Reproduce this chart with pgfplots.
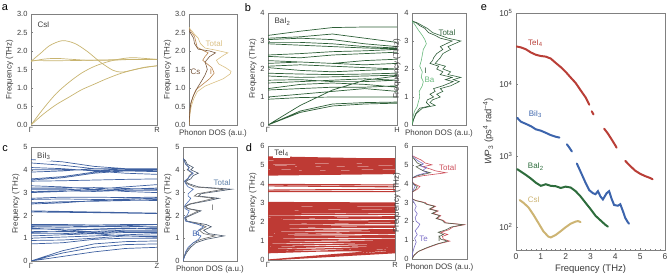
\documentclass[border=0pt]{standalone}
\usepackage{fontspec}
\setmainfont{Liberation Sans}
\usepackage{pgfplots}
\pgfplotsset{compat=1.18}

\definecolor{axc}{RGB}{128,128,128}
\definecolor{txt}{RGB}{60,60,60}
% CsI
\definecolor{csband}{RGB}{200,180,112}
\definecolor{cstot}{RGB}{218,192,132}
\definecolor{cscs}{RGB}{120,88,62}
\definecolor{csi}{RGB}{185,130,75}
% BaI2
\definecolor{baband}{RGB}{45,95,55}
\definecolor{batot}{RGB}{50,100,62}
\definecolor{bai}{RGB}{45,90,55}
\definecolor{baba}{RGB}{105,185,125}
% BiI3
\definecolor{biband}{RGB}{62,96,160}
\definecolor{bitot}{RGB}{70,85,105}
\definecolor{bitotl}{RGB}{95,130,170}
\definecolor{bii}{RGB}{105,105,105}
\definecolor{bibi}{RGB}{75,110,180}
% TeI4
\definecolor{teband}{RGB}{190,58,52}
\definecolor{tetot}{RGB}{205,80,92}
\definecolor{tei}{RGB}{85,95,75}
\definecolor{tete}{RGB}{125,112,200}
% WP3
\definecolor{wpte}{RGB}{185,62,55}
\definecolor{wpbi}{RGB}{60,100,172}
\definecolor{wpba}{RGB}{45,108,60}
\definecolor{wpcs}{RGB}{205,180,115}

\tikzset{
  tag/.style={font=\fontsize{8}{9}\selectfont, text=txt, anchor=west, inner sep=0pt},
  lab/.style={font=\fontsize{8}{9}\selectfont, inner sep=0pt},
}
\pgfplotsset{
  base/.style={scale only axis, anchor=south west,
    axis line style={draw=axc, line width=0.6pt},
    every tick/.style={draw=axc, line width=0.5pt},
    tick align=inside, tick pos=left,
    major tick length=2.2pt, minor tick length=1.3pt,
    tick label style={font=\fontsize{7.5}{8}\selectfont, text=txt},
    label style={font=\fontsize{8}{9.5}\selectfont, text=txt},
    /pgf/number format/assume math mode=true,
    unbounded coords=jump},
  band/.style={base, xmin=0, xmax=1, xtick={0,1},
    ylabel={Frequency (THz)}, ylabel style={yshift=-3pt},
    xticklabel style={yshift=1.5pt}},
  dos/.style={base, xmin=0, xmax=1.05, xtick=\empty,
    ylabel={Frequency (THz)}, ylabel style={yshift=-3pt},
    xlabel={Phonon DOS (a.u.)}, xlabel style={yshift=-1pt}},
}

\begin{document}
\begin{tikzpicture}
\path[use as bounding box] (0bp,0bp) rectangle (669bp,275bp);

% panel letters
\node[font=\fontsize{11}{12}\selectfont, text=black] at (5bp,267bp) {a};
\node[font=\fontsize{11}{12}\selectfont, text=black] at (248bp,267bp) {b};
\node[font=\fontsize{11}{12}\selectfont, text=black] at (5bp,126bp) {c};
\node[font=\fontsize{11}{12}\selectfont, text=black] at (249bp,127bp) {d};
\node[font=\fontsize{11}{12}\selectfont, text=black] at (484bp,267bp) {e};

% ---------- a: CsI dispersion ----------
\begin{axis}[band, at={(31bp,150bp)}, width=126bp, height=111bp,
  ymin=0, ymax=3, ytick={0,0.5,...,3}, xticklabels={Γ,R},
  yticklabel style={/pgf/number format/fixed, /pgf/number format/fixed zerofill, /pgf/number format/precision=1}]
\addplot[csband, line width=0.7pt, smooth] coordinates {(0,0)(0.1,0.3)(0.2,0.55)(0.3,0.75)(0.4,0.95)(0.5,1.1)(0.6,1.25)(0.7,1.38)(0.8,1.48)(0.9,1.55)(1,1.6)};
\addplot[csband, line width=0.7pt, smooth] coordinates {(0,0)(0.1,0.45)(0.2,0.85)(0.3,1.15)(0.4,1.4)(0.5,1.58)(0.6,1.7)(0.7,1.78)(0.8,1.82)(0.9,1.8)(1,1.77)};
\addplot[csband, line width=0.7pt, smooth] coordinates {(0,1.72)(0.08,1.95)(0.15,2.15)(0.25,2.28)(0.35,2.2)(0.45,1.98)(0.55,1.7)(0.65,1.48)(0.72,1.43)(0.8,1.48)(0.9,1.56)(1,1.6)};
\addplot[csband, line width=0.7pt, smooth] coordinates {(0,1.72)(0.1,1.78)(0.2,1.8)(0.3,1.78)(0.45,1.75)(0.6,1.75)(0.8,1.77)(1,1.77)};
\addplot[csband, line width=0.7pt, smooth] coordinates {(0,1.74)(0.3,1.74)(0.6,1.76)(1,1.78)};
\node[tag] at (rel axis cs:0.05,0.9) {CsI};
\end{axis}

% ---------- a: CsI DOS ----------
\begin{axis}[dos, at={(189bp,150bp)}, width=48bp, height=111bp,
  ymin=0, ymax=3, ytick={0,0.5,...,3},
  yticklabel style={/pgf/number format/fixed, /pgf/number format/fixed zerofill, /pgf/number format/precision=1}]
\addplot[cstot, line width=0.6pt] coordinates {(0,0)(0.02,0.3)(0.05,0.5)(0.1,0.7)(0.18,0.9)(0.35,1.05)(0.55,1.15)(0.75,1.25)(0.9,1.38)(0.92,1.45)(0.8,1.55)(0.65,1.65)(0.6,1.75)(0.75,1.88)(0.85,1.95)(0.6,2.02)(0.35,2.08)(0.25,2.2)(0.2,2.35)(0.12,2.45)(0.08,2.52)(0.02,2.6)(0,2.65)};
\addplot[csi, line width=0.6pt] coordinates {(0,0)(0.03,0.5)(0.08,0.75)(0.15,0.95)(0.3,1.1)(0.45,1.25)(0.55,1.4)(0.5,1.55)(0.4,1.65)(0.3,1.75)(0.35,1.85)(0.42,1.95)(0.3,2.02)(0.18,2.1)(0.15,2.25)(0.12,2.4)(0.06,2.5)(0,2.6)};
\addplot[cscs, line width=0.6pt] coordinates {(0,0)(0.02,0.4)(0.04,0.6)(0.1,0.8)(0.18,1.0)(0.28,1.2)(0.35,1.35)(0.4,1.5)(0.38,1.6)(0.35,1.7)(0.45,1.85)(0.58,1.95)(0.45,2.0)(0.2,2.05)(0.12,2.2)(0.1,2.35)(0.05,2.45)(0,2.55)};
\node[lab, text=cstot] at (axis cs:0.55,2.2) {Total};
\node[lab, text=cscs] at (axis cs:0.14,1.43) {Cs};
\node[lab, text=csi] at (axis cs:0.48,1.43) {I};
\end{axis}

% ---------- b: BaI2 dispersion ----------
\begin{axis}[band, at={(268bp,150bp)}, width=129bp, height=112bp,
  ymin=0, ymax=4, ytick={0,...,4}, xticklabels={Γ,H}]
\addplot[baband, line width=0.7pt] coordinates {
(0,0)(0.25,0.45)(0.5,0.68)(0.75,0.75)(1,0.78) (1,nan)
(0,0)(0.25,0.5)(0.5,0.75)(0.75,0.8)(1,0.82) (1,nan)
(0,0)(0.25,0.7)(0.5,1.25)(0.75,1.6)(1,1.75) (1,nan)
(0,0.92)(0.25,0.98)(0.5,1.0)(0.75,1.0)(1,1.0) (1,nan)
(0,1.0)(0.25,1.1)(0.5,1.2)(0.75,1.3)(1,1.2) (1,nan)
(0,1.25)(0.25,1.3)(0.5,1.35)(0.75,1.35)(1,1.4) (1,nan)
(0,1.3)(0.25,1.45)(0.5,1.5)(0.75,1.45)(1,1.35) (1,nan)
(0,1.5)(0.25,1.55)(0.5,1.6)(0.75,1.65)(1,1.6) (1,nan)
(0,1.6)(0.25,1.62)(0.5,1.55)(0.75,1.55)(1,1.6) (1,nan)
(0,1.75)(0.25,1.7)(0.5,1.72)(0.75,1.75)(1,1.78) (1,nan)
(0,1.85)(0.25,1.82)(0.5,1.8)(0.75,1.82)(1,1.85) (1,nan)
(0,2.05)(0.25,1.95)(0.5,1.9)(0.75,1.95)(1,2.0) (1,nan)
(0,2.1)(0.25,2.15)(0.5,2.1)(0.75,2.05)(1,2.0) (1,nan)
(0,2.2)(0.25,2.25)(0.5,2.2)(0.75,2.15)(1,2.2) (1,nan)
(0,2.3)(0.25,2.25)(0.5,2.2)(0.75,2.3)(1,2.35) (1,nan)
(0,2.45)(0.25,2.4)(0.5,2.5)(0.75,2.55)(1,2.6) (1,nan)
(0,2.5)(0.25,2.55)(0.5,2.62)(0.75,2.65)(1,2.7) (1,nan)
(0,2.9)(0.25,2.85)(0.5,2.8)(0.75,2.75)(1,2.72) (1,nan)
(0,2.95)(0.25,2.95)(0.5,2.9)(0.75,2.8)(1,2.75) (1,nan)
(0,3.05)(0.25,3.1)(0.5,3.05)(0.75,2.9)(1,2.8) (1,nan)
(0,3.1)(0.25,3.15)(0.5,3.25)(0.75,3.1)(1,2.95) (1,nan)
(0,3.2)(0.25,3.35)(0.5,3.48)(0.75,3.5)(1,3.5)
};
\node[tag] at (rel axis cs:0.05,0.92) {BaI\textsubscript{2}};
\end{axis}

% ---------- b: BaI2 DOS ----------
\begin{axis}[dos, at={(412bp,150bp)}, width=54bp, height=112bp,
  ymin=0, ymax=4, ytick={0,...,4}]
\addplot[batot, line width=0.6pt] coordinates {(0,0)(0.03,0.2)(0.08,0.4)(0.2,0.6)(0.45,0.7)(0.35,0.8)(0.4,0.9)(0.55,1.0)(0.48,1.1)(0.6,1.2)(0.55,1.3)(0.75,1.4)(0.92,1.55)(0.8,1.62)(0.95,1.7)(0.7,1.8)(0.75,1.9)(0.6,2.0)(0.65,2.1)(0.45,2.2)(0.5,2.3)(0.55,2.4)(0.6,2.55)(0.75,2.7)(0.7,2.8)(0.95,3.0)(0.7,3.1)(0.55,3.2)(0.4,3.3)(0.3,3.45)(0.2,3.55)(0.1,3.65)(0,3.72)};
\addplot[bai, line width=0.6pt] coordinates {(0,0)(0.03,0.2)(0.07,0.4)(0.15,0.6)(0.35,0.68)(0.28,0.8)(0.3,0.9)(0.42,1.0)(0.35,1.1)(0.45,1.2)(0.42,1.3)(0.6,1.4)(0.8,1.55)(0.65,1.62)(0.78,1.7)(0.55,1.8)(0.6,1.9)(0.48,2.0)(0.52,2.1)(0.35,2.2)(0.4,2.3)(0.42,2.4)(0.48,2.55)(0.6,2.7)(0.55,2.8)(0.78,3.0)(0.55,3.1)(0.45,3.2)(0.32,3.3)(0.25,3.45)(0.15,3.55)(0.08,3.65)(0,3.7)};
\addplot[baba, line width=0.6pt] coordinates {(0,0)(0.02,0.3)(0.05,0.5)(0.1,0.65)(0.12,0.8)(0.15,1.0)(0.14,1.2)(0.2,1.4)(0.22,1.55)(0.18,1.7)(0.2,1.9)(0.15,2.1)(0.18,2.3)(0.2,2.5)(0.22,2.7)(0.28,2.9)(0.25,3.05)(0.2,3.2)(0.12,3.4)(0.05,3.6)(0,3.7)};
\node[lab, text=batot] at (axis cs:0.68,3.29) {Total};
\node[lab, text=bai] at (axis cs:0.26,1.93) {I};
\node[lab, text=baba] at (axis cs:0.34,1.6) {Ba};
\end{axis}

% ---------- c: BiI3 dispersion ----------
\begin{axis}[band, at={(31bp,14bp)}, width=126bp, height=114bp,
  ymin=0, ymax=5, ytick={0,...,5}, xticklabels={Γ,Z}]
\addplot[biband, line width=0.7pt] coordinates {
(0,0)(0.25,0.35)(0.5,0.6)(0.75,0.72)(1,0.75) (1,nan)
(0,0)(0.25,0.45)(0.5,0.75)(0.75,0.85)(1,0.88) (1,nan)
(0,0)(0.25,0.2)(0.5,0.4)(0.75,0.55)(1,0.6) (1,nan)
(0,0.75)(0.25,0.8)(0.5,0.95)(0.75,1.0)(1,1.0) (1,nan)
(0,0.9)(0.25,0.92)(0.5,1.0)(0.75,1.1)(1,1.1) (1,nan)
(0,1.0)(0.25,1.05)(0.5,1.1)(0.75,1.15)(1,1.2) (1,nan)
(0,1.1)(0.25,1.15)(0.5,1.2)(0.75,1.25)(1,1.25) (1,nan)
(0,1.2)(0.25,1.2)(0.5,1.25)(0.75,1.3)(1,1.3) (1,nan)
(0,1.3)(0.25,1.28)(0.5,1.3)(0.75,1.35)(1,1.35) (1,nan)
(0,1.4)(0.25,1.4)(0.5,1.38)(0.75,1.42)(1,1.45) (1,nan)
(0,1.5)(0.25,1.48)(0.5,1.5)(0.75,1.52)(1,1.5) (1,nan)
(0,1.55)(0.25,1.55)(0.5,1.52)(0.75,1.55)(1,1.6) (1,nan)
(0,1.6)(0.25,1.6)(0.5,1.58)(0.75,1.6)(1,1.6) (1,nan)
(0,1.45)(0.25,1.35)(0.5,1.2)(0.75,1.1)(1,1.05) (1,nan)
(0,1.25)(0.25,1.3)(0.5,1.4)(0.75,1.45)(1,1.4) (1,nan)
(0,2.15)(0.5,2.12)(1,2.08) (1,nan)
(0,2.2)(0.5,2.15)(1,2.1) (1,nan)
(0,2.5)(0.25,2.55)(0.5,2.65)(0.75,2.72)(1,2.75) (1,nan)
(0,2.55)(0.25,2.6)(0.5,2.62)(0.75,2.65)(1,2.7) (1,nan)
(0,2.7)(0.25,2.72)(0.5,2.7)(0.75,2.68)(1,2.65) (1,nan)
(0,2.75)(0.25,2.8)(0.5,2.8)(0.75,2.78)(1,2.8) (1,nan)
(0,3.0)(0.25,3.05)(0.5,3.15)(0.75,3.25)(1,3.35) (1,nan)
(0,3.05)(0.25,3.08)(0.5,3.05)(0.75,3.1)(1,3.1) (1,nan)
(0,3.15)(0.25,3.15)(0.5,3.1)(0.75,3.15)(1,3.2) (1,nan)
(0,3.2)(0.25,3.2)(0.5,3.22)(0.75,3.18)(1,3.15) (1,nan)
(0,3.3)(0.25,3.25)(0.5,3.15)(0.75,3.05)(1,3.0) (1,nan)
(0,3.5)(0.25,3.52)(0.5,3.55)(0.75,3.58)(1,3.6) (1,nan)
(0,3.55)(0.25,3.65)(0.5,3.85)(0.75,3.95)(1,3.95) (1,nan)
(0,3.6)(0.25,3.7)(0.5,3.9)(0.75,4.0)(1,4.0) (1,nan)
(0,3.9)(0.25,3.95)(0.5,4.05)(0.75,4.05)(1,4.05) (1,nan)
(0,4.0)(0.25,4.0)(0.5,3.98)(0.75,3.95)(1,3.92) (1,nan)
(0,4.1)(0.25,4.05)(0.5,3.95)(0.75,3.85)(1,3.8) (1,nan)
(0,4.3)(0.25,4.2)(0.5,4.05)(0.75,3.98)(1,3.95) (1,nan)
(0,4.45)(0.25,4.35)(0.5,4.15)(0.75,4.05)(1,4.05)
};
\node[tag, fill=white, inner sep=1pt] at (rel axis cs:0.04,0.92) {BiI\textsubscript{3}};
\end{axis}

% ---------- c: BiI3 DOS ----------
\begin{axis}[dos, at={(183bp,14bp)}, width=54bp, height=114bp,
  ymin=0, ymax=5, ytick={0,...,5}]
\addplot[bitot, line width=0.6pt] coordinates {(0,0)(0.03,0.2)(0.08,0.4)(0.15,0.6)(0.25,0.8)(0.45,0.95)(0.8,1.1)(0.5,1.2)(0.4,1.35)(0.55,1.5)(0.45,1.6)(0.08,1.75)(0.05,1.9)(0.15,2.0)(0.35,2.2)(0.1,2.3)(0.05,2.4)(0.15,2.5)(0.5,2.65)(0.7,2.75)(0.3,2.85)(0.35,2.95)(0.95,3.15)(0.3,3.25)(0.1,3.4)(0.05,3.5)(0.15,3.6)(0.2,3.75)(0.3,3.85)(0.15,4.0)(0.2,4.1)(0.08,4.25)(0.05,4.4)(0,4.5)};
\addplot[bii, line width=0.6pt] coordinates {(0,0)(0.02,0.2)(0.06,0.4)(0.12,0.6)(0.2,0.8)(0.35,0.95)(0.62,1.1)(0.4,1.2)(0.32,1.35)(0.45,1.5)(0.35,1.6)(0.06,1.75)(0.04,1.9)(0.12,2.0)(0.3,2.2)(0.08,2.3)(0.04,2.4)(0.12,2.5)(0.42,2.65)(0.6,2.75)(0.22,2.85)(0.28,2.95)(0.8,3.15)(0.22,3.25)(0.07,3.4)(0.03,3.5)(0.1,3.6)(0.12,3.75)(0.18,3.85)(0.08,4.0)(0.12,4.1)(0.05,4.25)(0.03,4.4)(0,4.5)};
\addplot[bibi, line width=0.6pt] coordinates {(0,0)(0.03,0.2)(0.05,0.4)(0.1,0.6)(0.2,0.8)(0.3,0.95)(0.35,1.1)(0.25,1.2)(0.3,1.35)(0.4,1.5)(0.3,1.6)(0.05,1.75)(0.03,1.9)(0.08,2.0)(0.12,2.2)(0.04,2.3)(0.03,2.4)(0.06,2.5)(0.12,2.65)(0.15,2.75)(0.1,2.85)(0.1,2.95)(0.2,3.15)(0.1,3.25)(0.05,3.4)(0.03,3.5)(0.08,3.6)(0.15,3.75)(0.2,3.85)(0.1,4.0)(0.12,4.1)(0.05,4.25)(0.02,4.4)(0,4.5)};
\node[lab, text=bitotl] at (axis cs:0.76,3.42) {Total};
\node[lab, text=bii] at (axis cs:0.58,2.32) {I};
\node[lab, text=bibi] at (axis cs:0.25,1.18) {Bi};
\end{axis}

% ---------- d: TeI4 dispersion ----------
\begin{axis}[band, at={(268bp,15bp)}, width=127bp, height=114bp,
  ymin=0, ymax=6, ytick={0,...,6}, xticklabels={Γ,R}]
\addplot[teband, line width=1.1pt] coordinates {
(0,0)(1,0.45) (1,nan) (0,0)(1,0.55) (1,nan) (0,0)(1,0.38) (1,nan)
(0,0.38)(1,0.6) (1,nan) (0,0.45)(1,0.5) (1,nan) (0,0.5)(1,0.7) (1,nan)
(0,0.55)(1,0.62) (1,nan) (0,0.62)(1,0.8) (1,nan) (0,0.68)(1,0.75) (1,nan)
(0,0.75)(1,0.9) (1,nan) (0,0.8)(1,0.85) (1,nan) (0,0.88)(1,1.0) (1,nan)
(0,0.95)(1,0.92) (1,nan) (0,1.0)(1,1.1) (1,nan) (0,1.08)(1,1.05) (1,nan)
(0,1.15)(1,1.2) (1,nan) (0,1.2)(1,1.3) (1,nan) (0,1.28)(1,1.25) (1,nan)
(0,1.35)(1,1.4) (1,nan) (0,1.42)(1,1.5) (1,nan) (0,1.48)(1,1.45) (1,nan)
(0,1.55)(1,1.6) (1,nan) (0,1.62)(1,1.55) (1,nan) (0,1.68)(1,1.72) (1,nan)
(0,1.75)(1,1.8) (1,nan) (0,1.82)(1,1.78) (1,nan) (0,1.88)(1,1.92) (1,nan)
(0,1.95)(1,2.0) (1,nan) (0,2.0)(1,2.08) (1,nan) (0,2.08)(1,2.05) (1,nan)
(0,2.15)(1,2.2) (1,nan) (0,2.22)(1,2.28) (1,nan) (0,2.3)(1,2.25) (1,nan)
(0,2.38)(1,2.4) (1,nan) (0,2.45)(1,2.5) (1,nan) (0,2.52)(1,2.55) (1,nan)
(0,2.58)(1,2.62) (1,nan) (0,2.65)(1,2.7) (1,nan) (0,2.72)(1,2.75) (1,nan)
(0,2.78)(1,2.8) (1,nan) (0,2.85)(1,2.88) (1,nan) (0,2.92)(1,2.95) (1,nan)
(0,2.98)(1,3.0) (1,nan) (0,3.03)(1,3.0) (1,nan)
(0,3.6)(1,3.6) (1,nan) (0,3.68)(1,3.72) (1,nan) (0,3.9)(1,3.85) (1,nan)
(0,3.98)(1,3.95) (1,nan)
(0,4.47)(1,4.55) (1,nan) (0,4.52)(1,4.6) (1,nan) (0,4.58)(1,4.65) (1,nan)
(0,4.65)(1,4.72) (1,nan) (0,4.72)(1,4.8) (1,nan) (0,4.8)(1,4.85) (1,nan)
(0,4.85)(1,4.92) (1,nan) (0,4.92)(1,5.0) (1,nan) (0,5.0)(1,5.05) (1,nan)
(0,5.08)(1,5.12) (1,nan) (0,5.15)(1,5.18) (1,nan) (0,5.22)(1,5.25) (1,nan)
(0,5.3)(1,5.3) (1,nan) (0,5.36)(1,5.33) (1,nan) (0,5.43)(1,5.3)
};
\node[tag, fill=white, inner sep=1pt] at (rel axis cs:0.04,0.935) {TeI\textsubscript{4}};
\end{axis}

% ---------- d: TeI4 DOS ----------
\begin{axis}[dos, at={(412bp,16bp)}, width=55bp, height=113bp,
  ymin=0, ymax=6, ytick={0,...,6}]
\addplot[tetot, line width=0.6pt] coordinates {(0,0)(0.04,0.2)(0.12,0.4)(0.3,0.6)(0.5,0.8)(0.72,0.95)(0.6,1.05)(0.58,1.2)(0.68,1.3)(0.55,1.42)(0.7,1.55)(0.78,1.7)(1.0,1.82)(0.65,1.92)(0.6,2.05)(0.48,2.15)(0.55,2.3)(0.4,2.42)(0.5,2.55)(0.35,2.65)(0.45,2.8)(0.3,2.9)(0.25,3.0)(0.08,3.1)(0,3.2)(0,3.55)(0.1,3.7)(0.15,3.85)(0.05,3.98)(0,4.1)(0,4.3)(0.2,4.42)(0.65,4.58)(0.45,4.68)(0.35,4.78)(0.2,4.9)(0.38,5.0)(0.25,5.1)(0.18,5.25)(0.08,5.38)(0,5.5)};
\addplot[tete, line width=0.6pt] coordinates {(0,0)(0.01,0.3)(0.04,0.6)(0.08,0.9)(0.05,1.1)(0.1,1.3)(0.06,1.5)(0.12,1.7)(0.15,1.85)(0.08,2.0)(0.06,2.2)(0.1,2.4)(0.05,2.6)(0.08,2.8)(0.04,3.0)(0,3.2)(0,3.55)(0.04,3.75)(0.06,3.85)(0,4.1)(0,4.3)(0.1,4.45)(0.3,4.6)(0.2,4.7)(0.28,4.85)(0.15,4.95)(0.22,5.05)(0.12,5.2)(0.05,5.35)(0,5.5)};
\addplot[tei, line width=0.6pt] coordinates {(0,0)(0.04,0.2)(0.12,0.4)(0.28,0.6)(0.48,0.8)(0.68,0.95)(0.55,1.05)(0.52,1.2)(0.6,1.3)(0.5,1.42)(0.65,1.55)(0.75,1.7)(0.98,1.82)(0.62,1.92)(0.58,2.05)(0.46,2.15)(0.53,2.3)(0.38,2.42)(0.48,2.55)(0.33,2.65)(0.43,2.8)(0.28,2.9)(0.22,3.0)(0.07,3.1)(0,3.2)(0,3.55)(0.07,3.7)(0.1,3.85)(0.03,3.98)(0,4.1)(0,4.3)(0.1,4.42)(0.35,4.58)(0.22,4.68)(0.15,4.78)(0.08,4.9)(0.18,5.0)(0.1,5.1)(0.06,5.25)(0.02,5.38)(0,5.5)};
\node[lab, text=tetot] at (axis cs:0.68,4.84) {Total};
\node[lab, text=tete] at (axis cs:0.22,1.06) {Te};
\node[lab, text=tei] at (axis cs:0.52,1.06) {I};
\end{axis}

% ---------- e: weighted three-phonon phase space ----------
\begin{axis}[base, at={(516bp,25bp)}, width=149bp, height=237bp,
  xmin=0, xmax=6, ymode=log, ymin=48, ymax=1e5,
  xtick={0,...,6}, minor x tick num=4,
  ytick={1e2,1e3,1e4,1e5},
  yticklabels={10\textsuperscript{2},10\textsuperscript{3},10\textsuperscript{4},10\textsuperscript{5}},
  minor ytick={50,60,70,80,90,200,300,400,500,600,700,800,900,2000,3000,4000,5000,6000,7000,8000,9000,20000,30000,40000,50000,60000,70000,80000,90000},
  tick label style={font=\fontsize{8.5}{9}\selectfont},
  label style={font=\fontsize{9.5}{11}\selectfont},
  xlabel={Frequency (THz)},
  ylabel={\textit{WP}\textsubscript{3} (ps\textsuperscript{4} rad\textsuperscript{−4})},
  ylabel style={yshift=-1pt}, xlabel style={yshift=2pt}]
\addplot[wpte, line width=2pt, line cap=round] coordinates {
(0.02,3.4e4)(0.2,3.3e4)(0.4,3.1e4)(0.6,2.8e4)(0.8,2.6e4)(1.0,2.5e4)(1.2,2.45e4)(1.4,2.3e4)(1.6,2.0e4)(1.8,1.75e4)(2.0,1.5e4)(2.2,1.25e4)(2.4,1.05e4)(2.6,8.3e3)(2.8,6.6e3)(2.95,5.2e3)
(2.95,nan)
(3.05,4.2e3)(3.12,3.8e3)
(3.12,nan)
(3.55,2.4e3)(3.7,2.05e3)(3.85,1.7e3)(4.0,1.4e3)(4.05,1.3e3)
(4.05,nan)
(4.4,850)(4.6,720)(4.8,620)(5.0,560)(5.2,520)(5.4,490)(5.5,470)};
\addplot[wpbi, line width=2pt, line cap=round] coordinates {
(0.05,3.4e3)(0.2,3.0e3)(0.4,2.8e3)(0.6,2.6e3)(0.8,2.35e3)(1.0,2.25e3)(1.2,2.1e3)(1.4,1.95e3)(1.6,1.85e3)(1.75,1.8e3)
(1.75,nan)
(2.05,1.45e3)(2.15,1.3e3)(2.25,1.15e3)
(2.25,nan)
(2.45,780)(2.6,600)(2.8,420)(2.95,330)(3.1,300)(3.2,290)(3.3,320)(3.4,270)(3.5,245)(3.65,300)(3.75,320)(3.85,250)(3.95,205)(4.1,200)(4.2,210)(4.3,170)(4.4,135)(4.5,118)(4.55,112)};
\addplot[wpba, line width=2pt, line cap=round] coordinates {
(0.05,650)(0.2,600)(0.4,540)(0.6,480)(0.8,420)(1.0,380)(1.2,400)(1.4,380)(1.6,375)(1.8,355)(2.0,370)(2.2,360)(2.4,320)(2.6,270)(2.8,220)(3.0,180)(3.2,145)(3.4,125)(3.6,108)(3.7,102)};
\addplot[wpcs, line width=2pt, line cap=round] coordinates {
(0.15,240)(0.3,220)(0.5,190)(0.7,150)(0.9,115)(1.1,88)(1.3,74)(1.4,72)(1.6,78)(1.8,88)(2.0,100)(2.2,112)(2.4,120)(2.5,122)(2.6,118)};
\node[lab, text=wpte] at (axis cs:0.78,3.8e4) {TeI\textsubscript{4}};
\node[lab, text=wpbi] at (axis cs:0.78,3.8e3) {BiI\textsubscript{3}};
\node[lab, text=wpba] at (axis cs:0.8,700) {BaI\textsubscript{2}};
\node[lab, text=wpcs] at (axis cs:0.72,245) {CsI};
\end{axis}
\end{tikzpicture}
\end{document}
